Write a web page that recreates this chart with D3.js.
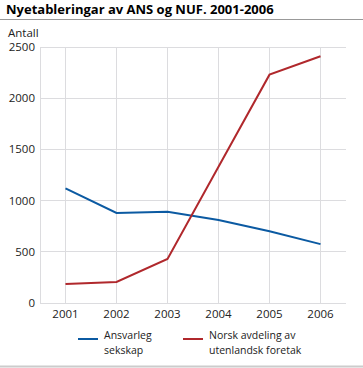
<!DOCTYPE html>
<html>
<head>
<meta charset="utf-8">
<script src="https://cdn.jsdelivr.net/npm/d3@7"></script>
<style>
  body { margin: 0; background: #fff; }
  svg { font-family: "Open Sans", sans-serif; }
</style>
</head>
<body>
<svg></svg>
<script>
const WIDTH = 363;
const HEIGHT = 368;

const years = ['2001', '2002', '2003', '2004', '2005', '2006'];
const ans = [1120, 880, 890, 810, 700, 575];
const nuf = [185, 205, 430, 1330, 2230, 2410];
const yTicks = [0, 500, 1000, 1500, 2000, 2500];

const series = [
  {name: ['Ansvarleg', 'sekskap'], values: ans, color: '#0b5aa2'},
  {name: ['Norsk avdeling av', 'utenlandsk foretak'], values: nuf, color: '#b0282c'}
];

const svg = d3.select('svg')
  .attr('width', WIDTH)
  .attr('height', HEIGHT);

// Title and the rules above and below.
svg.append('text')
  .attr('x', 6)
  .attr('y', 14)
  .attr('font-size', 13)
  .attr('font-weight', 'bold')
  .attr('fill', '#000')
  .text('Nyetableringar av ANS og NUF. 2001-2006');

svg.append('line')
  .attr('x1', 0).attr('x2', WIDTH)
  .attr('y1', 19.5).attr('y2', 19.5)
  .attr('stroke', '#999');

svg.append('line')
  .attr('x1', 0).attr('x2', WIDTH)
  .attr('y1', 366.5).attr('y2', 366.5)
  .attr('stroke', '#ccc')
  .attr('stroke-width', 2);

const x = d3.scalePoint().domain(years).range([40, 346]).padding(0.5);
const y = d3.scaleLinear().domain([0, 2500]).range([303, 47]);

// Grid.
const grid = svg.append('g').attr('stroke', '#dcdcdf').attr('shape-rendering', 'crispEdges');
grid.selectAll('.h')
  .data(yTicks)
  .enter()
  .append('line')
  .attr('x1', 40).attr('x2', 346)
  .attr('y1', d => y(d)).attr('y2', d => y(d));
grid.selectAll('.v')
  .data(years)
  .enter()
  .append('line')
  .attr('x1', d => x(d)).attr('x2', d => x(d))
  .attr('y1', y(2500)).attr('y2', y(0));
grid.append('line')
  .attr('x1', 40).attr('x2', 40)
  .attr('y1', y(2500)).attr('y2', y(0));

// Axis labels.
svg.append('g')
  .selectAll('text')
  .data(yTicks)
  .enter()
  .append('text')
  .attr('x', 35)
  .attr('y', d => y(d) + 4)
  .attr('text-anchor', 'end')
  .attr('font-size', 11.5)
  .attr('fill', '#222')
  .text(d => d);

svg.append('g')
  .selectAll('text')
  .data(years)
  .enter()
  .append('text')
  .attr('x', d => x(d))
  .attr('y', 318)
  .attr('text-anchor', 'middle')
  .attr('font-size', 11.5)
  .attr('fill', '#222')
  .text(d => d);

svg.append('text')
  .attr('x', 8)
  .attr('y', 37)
  .attr('font-size', 11.5)
  .attr('fill', '#222')
  .text('Antall');

// Lines.
const line = d3.line()
  .x((d, i) => x(years[i]))
  .y(d => y(d));

svg.selectAll('.series')
  .data(series)
  .enter()
  .append('path')
  .attr('fill', 'none')
  .attr('stroke', d => d.color)
  .attr('stroke-width', 2)
  .attr('d', d => line(d.values));

// Legend.
const legendX = [78, 183];
const legend = svg.selectAll('.legend')
  .data(series)
  .enter()
  .append('g')
  .attr('transform', (d, i) => `translate(${legendX[i]},0)`);

legend.append('line')
  .attr('x1', 0).attr('x2', 20)
  .attr('y1', 339).attr('y2', 339)
  .attr('stroke', d => d.color)
  .attr('stroke-width', 2);

legend.selectAll('text')
  .data(d => d.name)
  .enter()
  .append('text')
  .attr('x', 26)
  .attr('y', (d, i) => 339 + i * 14.5)
  .attr('font-size', 10.5)
  .attr('fill', '#222')
  .text(d => d);
</script>
</body>
</html>
